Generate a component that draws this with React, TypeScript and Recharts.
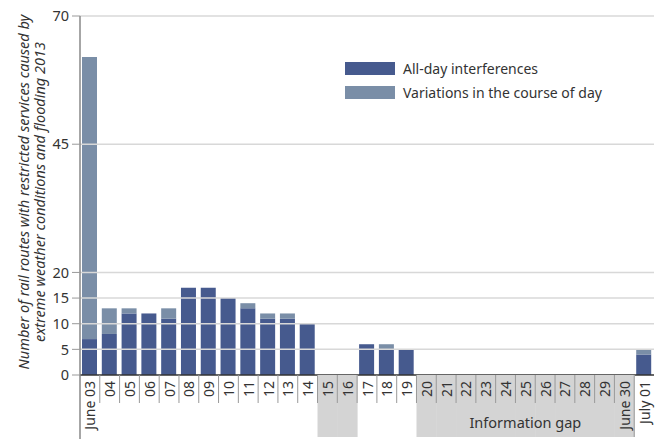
import { BarChart, Bar, XAxis, YAxis, ReferenceLine, Legend } from 'recharts'

const days = ['June 03', '04', '05', '06', '07', '08', '09', '10', '11', '12', '13', '14', '15', '16', '17', '18', '19', '20', '21', '22', '23', '24', '25', '26', '27', '28', '29', 'June 30', 'July 01']
const allDay = [7, 8, 12, 12, 11, 17, 17, 15, 13, 11, 11, 10, 0, 0, 6, 5, 5, 0, 0, 0, 0, 0, 0, 0, 0, 0, 0, 0, 4]
const variations = [55, 5, 1, 0, 2, 0, 0, 0, 1, 1, 1, 0, 0, 0, 0, 1, 0, 0, 0, 0, 0, 0, 0, 0, 0, 0, 0, 0, 1]
const yTicks = [0, 5, 10, 15, 20, 45, 70]
const shortGap = ['15', '16']
const infoGap = ['20', '21', '22', '23', '24', '25', '26', '27', '28', '29', 'June 30']
const seriesNames = ['All-day interferences', 'Variations in the course of day']
const titleLines = ['Number of  rail routes with restricted services caused by', 'extreme weather conditions and flooding 2013']

const data = days.map((day, i) => ({ day, allDay: allDay[i], variations: variations[i] }))

const W = 659
const H = 439
const LEFT = 80
const RIGHT = 5
const BAND = (W - LEFT - RIGHT) / days.length
const DARK = '#465a8e'
const LIGHT = '#7a8ea7'
const FONT = '"Noto Sans", "Open Sans", sans-serif'

function DayTick(props: any) {
  const { x, y, payload, index } = props
  const half = BAND / 2
  const day = payload.value as string
  const gap = shortGap.includes(day) || infoGap.includes(day)
  let sep = 28
  if (index === 0) sep = 64
  if (day === 'July 01') sep = 62
  const last = day === infoGap[infoGap.length - 1]
  return (
    <g>
      {gap && <rect x={x - half} y={y} width={BAND + 0.5} height={62} fill="#d4d4d4" />}
      <line x1={x - half} x2={x - half} y1={y} y2={y + sep} stroke={index === 0 ? '#888' : '#999'} strokeWidth={index === 0 ? 1.5 : 1} />
      <text
        transform={`translate(${x},${y + 6}) rotate(-90)`}
        textAnchor="end"
        dominantBaseline="central"
        fontSize={14}
        fill="#333"
        fontFamily={FONT}
      >
        {day}
      </text>
      {last && (
        <text x={x - (infoGap.length - 1) * half} y={y + 47} textAnchor="middle" dominantBaseline="central" fontSize={14.5} fill="#333" fontFamily={FONT}>
          Information gap
        </text>
      )}
    </g>
  )
}

function LegendBox() {
  const colors = [DARK, LIGHT]
  return (
    <div style={{ fontFamily: FONT }}>
      {seriesNames.map((name, i) => (
        <div key={name} style={{ display: 'flex', alignItems: 'center', height: 24 }}>
          <div style={{ width: 50, height: 13, background: colors[i], marginRight: 8 }} />
          <span style={{ fontSize: 14, color: '#333' }}>{name}</span>
        </div>
      ))}
    </div>
  )
}

export default function App() {
  return (
    <div style={{ position: 'absolute', left: 0, top: 0, width: W, height: H, background: '#fff' }}>
      <BarChart width={W} height={H} data={data} margin={{ top: 16, right: RIGHT, bottom: 0, left: 0 }} barSize={15}>
        <XAxis
          dataKey="day"
          interval={0}
          height={64}
          tickSize={0}
          tickMargin={0}
          tickLine={false}
          axisLine={{ stroke: '#333', strokeWidth: 1.5 }}
          tick={<DayTick />}
        />
        <YAxis
          width={LEFT}
          domain={[0, 70]}
          ticks={yTicks}
          interval={0}
          tickSize={8}
          tickMargin={3}
          axisLine={{ stroke: '#888', strokeWidth: 1.5 }}
          tickLine={{ stroke: '#999' }}
          tick={{ fontSize: 14.5, fill: '#333', fontFamily: FONT }}
        />
        <Legend
          layout="vertical"
          align="center"
          verticalAlign="middle"
          content={<LegendBox />}
          wrapperStyle={{ position: 'absolute', left: 345, top: 56, width: 300 }}
        />
        <Bar dataKey="allDay" name={seriesNames[0]} stackId="a" fill={DARK} isAnimationActive={false} />
        <Bar dataKey="variations" name={seriesNames[1]} stackId="a" fill={LIGHT} isAnimationActive={false} />
        {yTicks.filter((t) => t > 0).map((t) => (
          <ReferenceLine key={t} y={t} stroke="#d8d8d8" strokeWidth={1.5} />
        ))}
      </BarChart>
      <svg width={W} height={H} style={{ position: 'absolute', left: 0, top: 0, pointerEvents: 'none' }}>
        {titleLines.map((line, i) => (
          <text
            key={i}
            transform={`translate(${23 + i * 16},192) rotate(-90)`}
            textAnchor="middle"
            dominantBaseline="central"
            fontSize={14.5}
            fontStyle="italic"
            fill="#333"
            fontFamily={FONT}
          >
            {line}
          </text>
        ))}
      </svg>
    </div>
  )
}
